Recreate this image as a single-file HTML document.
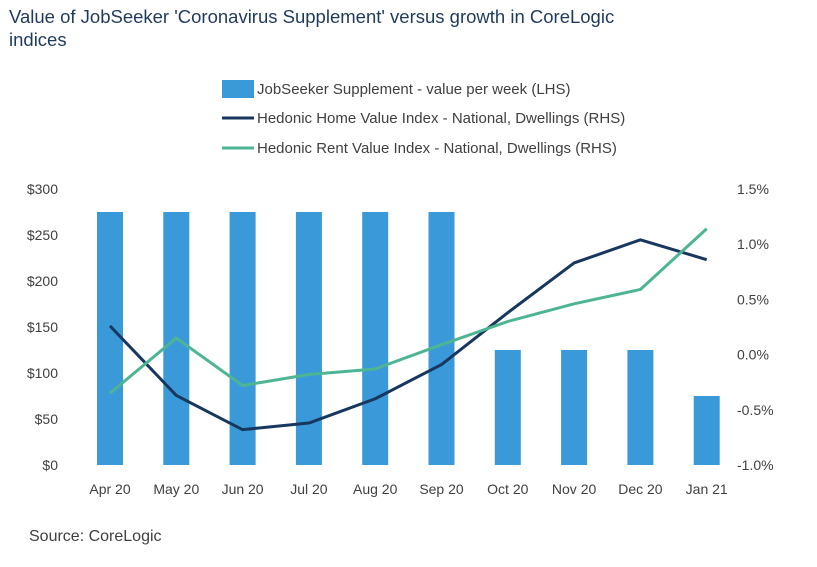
<!DOCTYPE html>
<html><head><meta charset="utf-8"><style>
body{margin:0;background:#fff;font-family:"Liberation Sans",sans-serif;}
svg text{font-family:"Liberation Sans",sans-serif;}
</style></head><body>
<svg width="817" height="562">
<text x="9" y="23" font-size="18.5" fill="#1f3b5c">Value of JobSeeker 'Coronavirus Supplement' versus growth in CoreLogic</text>
<text x="9" y="46" font-size="18.5" fill="#1f3b5c">indices</text>
<g>
<rect x="222" y="80" width="32" height="18" fill="#3a9ad9"/>
<text x="257" y="94" font-size="15" fill="#404040">JobSeeker Supplement - value per week (LHS)</text>
<line x1="222" y1="118" x2="254" y2="118" stroke="#17375e" stroke-width="3"/>
<text x="257" y="123" font-size="15" fill="#404040">Hedonic Home Value Index - National, Dwellings (RHS)</text>
<line x1="222" y1="148" x2="254" y2="148" stroke="#4db594" stroke-width="3"/>
<text x="257" y="153" font-size="15" fill="#404040">Hedonic Rent Value Index - National, Dwellings (RHS)</text>
</g>
<g id="plot"></g>
<text x="29" y="541" font-size="16" fill="#404040">Source: CoreLogic</text>
</svg>
<script>
const categories=["Apr 20","May 20","Jun 20","Jul 20","Aug 20","Sep 20","Oct 20","Nov 20","Dec 20","Jan 21"];
const supplement=[275,275,275,275,275,275,125,125,125,75];
const homeIndex=[0.26,-0.37,-0.68,-0.62,-0.40,-0.09,0.38,0.83,1.04,0.86];
const rentIndex=[-0.35,0.15,-0.28,-0.18,-0.13,0.09,0.30,0.46,0.59,1.14];
const leftTicks=[0,50,100,150,200,250,300];
const rightTicks=[-1.0,-0.5,0.0,0.5,1.0,1.5];
const NS="http://www.w3.org/2000/svg";
const g=document.getElementById('plot');
const x0=110,dx=66.3,yBase=465,yTop=189;
const xPos=i=>x0+i*dx;
const yL=v=>yBase-(v/300)*(yBase-yTop);
const yR=v=>yBase-((v+1)/2.5)*(yBase-yTop);
function mk(t,a){const e=document.createElementNS(NS,t);for(const k in a)e.setAttribute(k,a[k]);g.appendChild(e);return e;}
leftTicks.forEach(v=>{const t=mk('text',{x:58,y:yL(v)+5,'font-size':14,fill:'#404040','text-anchor':'end'});t.textContent='$'+v;

});
rightTicks.forEach(v=>{const t=mk('text',{x:737,y:yR(v)+5,'font-size':14,fill:'#404040'});t.textContent=v.toFixed(1)+'%';

});
categories.forEach((c,i)=>{const t=mk('text',{x:xPos(i),y:494,'font-size':14,fill:'#404040','text-anchor':'middle'});t.textContent=c;

});
supplement.forEach((v,i)=>{const r=mk('rect',{x:xPos(i)-13,y:yL(v),width:26,height:yBase-yL(v),fill:'#3a9ad9'});

});
function line(arr,color,name){const p=mk('polyline',{points:arr.map((v,i)=>xPos(i)+','+yR(v)).join(' '),fill:'none',stroke:color,'stroke-width':3,'stroke-linejoin':'round'});

}
line(homeIndex,'#17375e','home-value-line');
line(rentIndex,'#4db594','rent-value-line');
</script>
</body></html>
